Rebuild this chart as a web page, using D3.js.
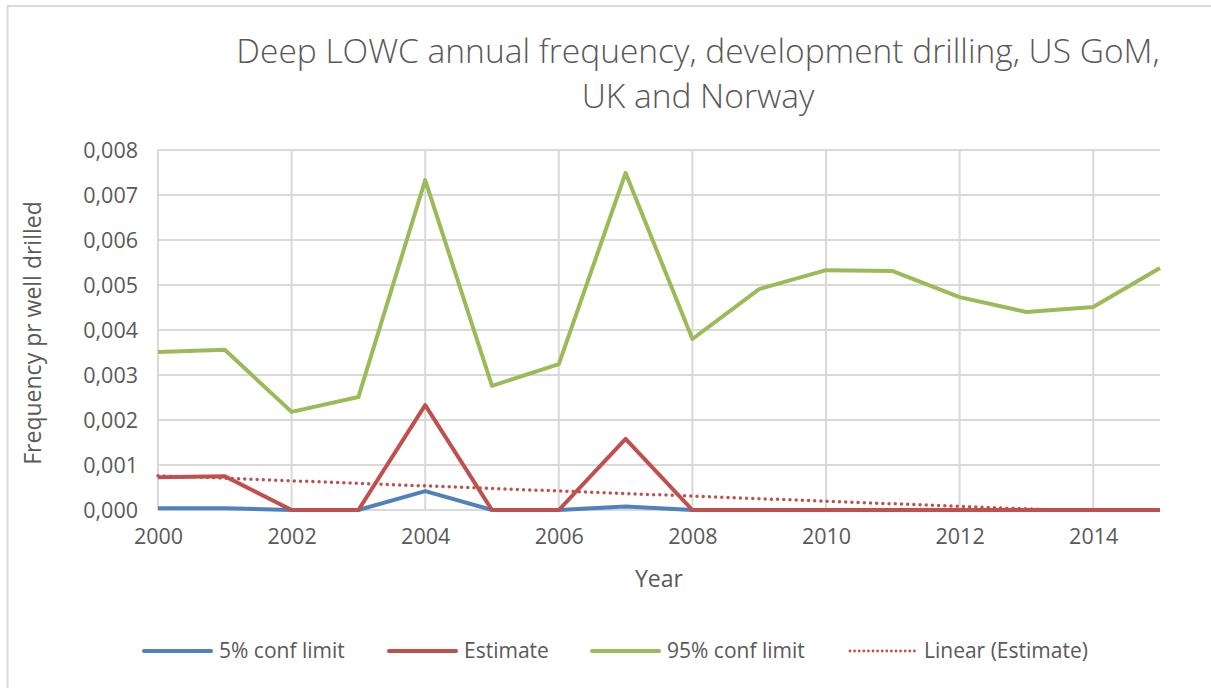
<!DOCTYPE html>
<html>
<head>
<meta charset="utf-8">
<script src="https://cdn.jsdelivr.net/npm/d3@7"></script>
<style>
	html, body { margin: 0; padding: 0; background: #fff; }
	svg { display: block; font-family: 'Open Sans', 'Noto Sans', sans-serif; }
</style>
</head>
<body>
<div id="chart"></div>
<script>
// Deep LOWC annual frequency
const years = [2000, 2001, 2002, 2003, 2004, 2005, 2006, 2007, 2008, 2009, 2010, 2011, 2012, 2013, 2014, 2015];
const conf5 = [0.00004, 0.00004, 0, 0, 0.00042, 0, 0, 0.00008, 0, 0, 0, 0, 0, 0, 0, 0];
const estimate = [0.00073, 0.00075, 0, 0, 0.00233, 0, 0, 0.00158, 0, 0, 0, 0, 0, 0, 0, 0];
const conf95 = [0.00351, 0.00356, 0.00218, 0.00251, 0.00733, 0.00276, 0.00324, 0.00749, 0.0038, 0.00491, 0.00533, 0.00531, 0.00473, 0.0044, 0.00451, 0.00538];
const xTicks = [2000, 2002, 2004, 2006, 2008, 2010, 2012, 2014];
const yTicks = [0, 0.001, 0.002, 0.003, 0.004, 0.005, 0.006, 0.007, 0.008];

(function() {
	'use strict';

	const width = 1211;
	const height = 688;
	const plot = { left: 158, right: 1160, top: 150, bottom: 510 };
	const textColor = '#595959';
	const gridColor = '#d9d9d9';

	const svg = d3.select('#chart').append('svg')
		.attr('width', width)
		.attr('height', height);

	// chart area border (only top and left visible in the picture)
	svg.append('path')
		.attr('d', `M7.5,${height} V6 H${width}`)
		.attr('fill', 'none')
		.attr('stroke', gridColor)
		.attr('stroke-width', 2);

	const x = d3.scaleLinear().domain([2000, 2015]).range([plot.left, plot.right]);
	const y = d3.scaleLinear().domain([0, 0.008]).range([plot.bottom, plot.top]);
	const fmt = v => d3.format('.3f')(v).replace('.', ',');

	// Grid
	svg.append('g')
		.selectAll('line')
		.data(yTicks)
		.enter()
		.append('line')
		.attr('x1', plot.left)
		.attr('x2', plot.right)
		.attr('y1', d => y(d))
		.attr('y2', d => y(d))
		.attr('stroke', gridColor)
		.attr('stroke-width', 2);

	svg.append('g')
		.selectAll('line')
		.data(xTicks)
		.enter()
		.append('line')
		.attr('x1', d => x(d))
		.attr('x2', d => x(d))
		.attr('y1', plot.top)
		.attr('y2', plot.bottom)
		.attr('stroke', gridColor)
		.attr('stroke-width', 2);

	// Axes (labels only, Excel style)
	const yAxis = svg.append('g')
		.attr('transform', `translate(${plot.left - 20},0)`)
		.call(d3.axisLeft(y).tickValues(yTicks).tickFormat(fmt).tickSize(0).tickPadding(0));
	const xAxis = svg.append('g')
		.attr('transform', `translate(0,${plot.bottom})`)
		.call(d3.axisBottom(x).tickValues(xTicks).tickFormat(d3.format('d')).tickSize(0).tickPadding(19));
	[yAxis, xAxis].forEach(a => {
		a.select('.domain').remove();
		a.selectAll('text')
			.attr('fill', textColor)
			.style('font-size', '21.5px')
			.style('font-family', "'Open Sans', sans-serif");
	});
	yAxis.selectAll('text').attr('dy', '0.35em').attr('x', 0);

	// Series
	const clipId = 'plot-clip';
	svg.append('clipPath').attr('id', clipId)
		.append('rect')
		.attr('x', plot.left - 5)
		.attr('y', plot.top - 5)
		.attr('width', plot.right - plot.left + 10)
		.attr('height', plot.bottom - plot.top + 5);

	const line = d3.line()
		.x((d, i) => x(years[i]))
		.y(d => y(d));

	const series = [
		{ label: '5% conf limit', values: conf5, color: '#4f81bd' },
		{ label: 'Estimate', values: estimate, color: '#c0504d' },
		{ label: '95% conf limit', values: conf95, color: '#9bbb59' }
	];

	const lines = svg.append('g');
	series.forEach(s => {
		lines.append('path')
			.attr('d', line(s.values))
			.attr('fill', 'none')
			.attr('stroke', s.color)
			.attr('stroke-width', 4)
			.attr('stroke-linejoin', 'round');
	});

	// Linear trendline on the estimate (least squares, as Excel does)
	const mx = d3.mean(years);
	const my = d3.mean(estimate);
	const slope = d3.sum(years, (v, i) => (v - mx) * (estimate[i] - my)) /
		d3.sum(years, v => (v - mx) * (v - mx));
	const trend = years.map(v => my + slope * (v - mx));

	svg.append('path')
		.attr('clip-path', `url(#${clipId})`)
		.attr('d', line(trend))
		.attr('fill', 'none')
		.attr('stroke', '#c0504d')
		.attr('stroke-width', 3.5)
		.attr('stroke-linecap', 'round')
		.attr('stroke-dasharray', '0,6.2');

	// Titles
	const title = svg.append('text')
		.attr('text-anchor', 'middle')
		.attr('fill', textColor)
		.style('font-size', '33.5px')
		.style('font-weight', 300);
	title.append('tspan').attr('x', 698).attr('y', 63)
		.text('Deep LOWC annual frequency, development drilling, US GoM,');
	title.append('tspan').attr('x', 698).attr('y', 108)
		.text('UK and Norway');

	svg.append('text')
		.attr('x', 659)
		.attr('y', 587)
		.attr('text-anchor', 'middle')
		.attr('fill', textColor)
		.style('font-size', '23px')
		.text('Year');

	svg.append('text')
		.attr('transform', `translate(41,${(plot.top + plot.bottom) / 2 + 3}) rotate(-90)`)
		.attr('text-anchor', 'middle')
		.attr('fill', textColor)
		.style('font-size', '23px')
		.text('Frequency pr well drilled');

	// Legend
	const legendItems = [
		{ label: '5% conf limit', color: '#4f81bd', x: 144, dash: null },
		{ label: 'Estimate', color: '#c0504d', x: 389, dash: null },
		{ label: '95% conf limit', color: '#9bbb59', x: 592, dash: null },
		{ label: 'Linear (Estimate)', color: '#c0504d', x: 849, dash: '0,4.6' }
	];

	const li = svg.append('g')
		.attr('transform', 'translate(0,651)')
		.selectAll('g')
		.data(legendItems)
		.enter()
		.append('g')
		.attr('transform', d => `translate(${d.x},0)`);

	li.append('line')
		.attr('x1', d => d.dash ? 1 : 0)
		.attr('x2', 67)
		.attr('stroke', d => d.color)
		.attr('stroke-width', d => d.dash ? 2.8 : 4)
		.attr('stroke-linecap', 'round')
		.attr('stroke-dasharray', d => d.dash);

	li.append('text')
		.attr('x', 75)
		.attr('dy', '0.35em')
		.attr('fill', textColor)
		.style('font-size', '21px')
		.text(d => d.label);
})();
</script>
</body>
</html>
